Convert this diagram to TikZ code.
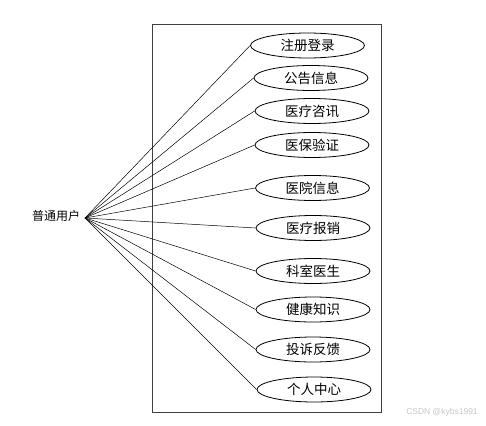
\documentclass[tikz,border=0pt]{standalone}
\usepackage{fontspec}
\newfontfamily\cjk{Noto Sans CJK SC}
\newfontfamily\wmfont{Liberation Sans}
\usetikzlibrary{shapes.geometric}
\begin{document}
\begin{tikzpicture}[x=1pt,y=-1pt,
  uc/.style={draw, ellipse, minimum width=114pt, minimum height=25pt, inner sep=0pt,
    font=\cjk\fontsize{13.5}{14}\selectfont, line width=0.8pt},
  assoc/.style={draw, line width=0.5pt},
  sysbox/.style={draw=black!75, line width=0.9pt}]
\useasboundingbox (0,0) rectangle (486,425);
\draw[sysbox] (152,24) rectangle (381,412.5);
\coordinate (actor) at (85,218);
\node[font=\cjk\fontsize{12}{13}\selectfont, inner sep=0pt] (actorlabel) at (56,216) {普通用户};
\node[uc] (e1) at (307.5,45.5) {注册登录};
\node[uc] (e2) at (311,78) {公告信息};
\node[uc] (e3) at (312,111) {医疗咨讯};
\node[uc] (e4) at (312,145) {医保验证};
\node[uc] (e5) at (312.5,188) {医院信息};
\node[uc] (e6) at (313,228) {医疗报销};
\node[uc] (e7) at (313,271) {科室医生};
\node[uc] (e8) at (313,309.5) {健康知识};
\node[uc] (e9) at (313,349.5) {投诉反馈};
\node[uc] (e10) at (314,389.5) {个人中心};
\foreach \e in {e1,e2,e3,e4,e5,e6,e7,e8,e9,e10}
  \draw[assoc] (actor) -- (\e.west);
\node[font=\wmfont\fontsize{8.5}{9}\selectfont, text=black!22, inner sep=0pt] (wm) at (442,412) {CSDN @kybs1991};
\end{tikzpicture}
\end{document}
